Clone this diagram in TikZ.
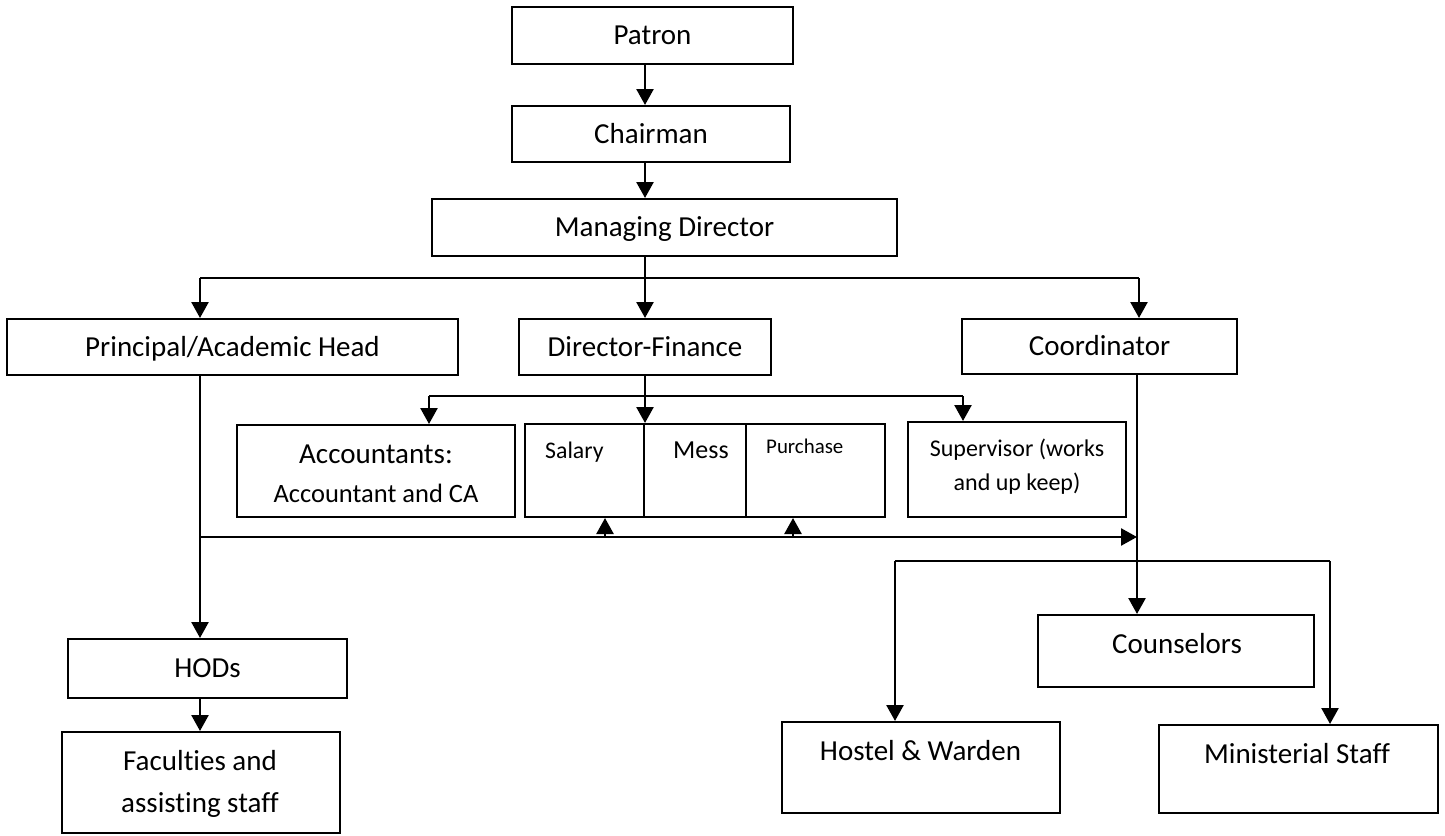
\documentclass[tikz,border=0pt]{standalone}
\usepackage{fontspec}
\setmainfont{Carlito}[Ligatures=NoCommon]
\usetikzlibrary{arrows.meta,calc}
\newcommand{\tfMain}{\fontsize{29}{35}\selectfont}
\begin{document}
\begin{tikzpicture}[x=1pt,y=-1pt,
  box/.style={draw, line width=2pt, rectangle, inner sep=0pt,
    font=\tfMain, text height=18.7pt, text depth=0pt, align=center},
  lbl/.style={anchor=base, inner sep=0pt},
  conn/.style={line width=1.9pt},
  arr/.style={line width=2.5pt, -{Triangle[width=17pt,length=16pt]}},
]
\useasboundingbox (0,0) rectangle (1445,835);
\fill[white] (0,0) rectangle (1445,835);

% boxes
\node[box, minimum width=281, minimum height=57] (patron) at (652.5,35.5) {Patron};
\node[box, minimum width=278, minimum height=56] (chair) at (651,134) {Chairman};
\node[box, minimum width=465, minimum height=57] (md) at (664.5,227.5) {Managing Director};
\node[box, minimum width=451, minimum height=56] (princ) at (232.5,347) {Principal/Academic Head};
\node[box, minimum width=252, minimum height=56] (dirf) at (645,347) {Director-Finance};
\node[box, minimum width=275, minimum height=55] (coord) at (1099.5,346.5) {Coordinator};

\node[box, minimum width=278, minimum height=92] (acct) at (376,471) {};
\node[lbl, font=\tfMain] (acctA) at (376,463) {Accountants:};
\node[lbl, font=\fontsize{26.5}{32}\selectfont] (acctB) at (376,502) {Accountant and CA};

\node[box, minimum width=119, minimum height=93] (salary) at (584.5,470.5) {};
\node[box, minimum width=102, minimum height=93] (mess) at (695,470.5) {};
\node[box, minimum width=139, minimum height=93] (purch) at (815.5,470.5) {};
\node[lbl, anchor=base west, font=\fontsize{23.8}{28}\selectfont] (salaryT) at (545,458) {Salary};
\node[lbl, anchor=base west, font=\fontsize{26}{31}\selectfont] (messT) at (673,458) {Mess};
\node[lbl, anchor=base west, font=\fontsize{20.9}{25}\selectfont] (purchT) at (766,453) {Purchase};

\node[box, minimum width=218, minimum height=95] (sup) at (1017,469.5) {};
\node[lbl, font=\fontsize{24}{29}\selectfont] (supA) at (1017,456) {Supervisor (works};
\node[lbl, font=\fontsize{24}{29}\selectfont] (supB) at (1017,490) {and up keep)};

\node[box, minimum width=279, minimum height=59] (hods) at (207.5,668.5) {HODs};
\node[box, minimum width=278, minimum height=101] (fac) at (201,782.5) {};
\node[lbl, font=\tfMain] (facA) at (200,770) {Faculties and};
\node[lbl, font=\tfMain] (facB) at (200,812) {assisting staff};

\node[box, minimum width=276, minimum height=72] (couns) at (1176,651) {};
\node[lbl, font=\tfMain] (counsT) at (1177,653) {Counselors};
\node[box, minimum width=278, minimum height=91] (hostel) at (921,767.5) {};
\node[lbl, font=\tfMain] (hostelT) at (920.5,760) {Hostel \& Warden};
\node[box, minimum width=279, minimum height=88] (minis) at (1298.5,769) {};
\node[lbl, font=\tfMain] (minisT) at (1297,763) {Ministerial Staff};

% reference coordinates
\coordinate (xa) at (645,0);
\coordinate (xp) at (200,0);
\coordinate (xc) at (1139,0);
\coordinate (xk) at (1137,0);
\coordinate (ya) at (0,278);
\coordinate (yf) at (0,396);
\coordinate (yl) at (0,537);
\coordinate (yb) at (0,561);
\coordinate (xacc) at (429,0);
\coordinate (xsup) at (963,0);
\coordinate (xu1) at (605,0);
\coordinate (xu2) at (793,0);
\coordinate (xh) at (895,0);
\coordinate (xm) at (1330,0);

% top chain
\draw[arr] (patron.south -| xa) -- (chair.north -| xa);
\draw[arr] (chair.south -| xa) -- (md.north -| xa);
\draw[arr] (md.south -| xa) -- (dirf.north -| xa);
\draw[conn] (xp |- ya) -- (xc |- ya);
\draw[arr] (xp |- ya) -- (princ.north -| xp);
\draw[arr] (xc |- ya) -- (coord.north -| xc);

% finance branch
\draw[arr] (dirf.south -| xa) -- (mess.north -| xa);
\draw[conn] (xacc |- yf) -- (xsup |- yf);
\draw[arr] (xacc |- yf) -- (acct.north -| xacc);
\draw[arr] (xsup |- yf) -- (sup.north -| xsup);

% principal branch
\draw[arr] (princ.south -| xp) -- (hods.north -| xp);
\draw[arr] (hods.south -| xp) -- (fac.north -| xp);
\draw[arr] (xp |- yl) -- (xk |- yl);
\draw[arr] (xu1 |- yl) -- (salary.south -| xu1);
\draw[arr] (xu2 |- yl) -- (purch.south -| xu2);

% coordinator branch
\draw[arr] (coord.south -| xk) -- (couns.north -| xk);
\draw[conn] (xh |- yb) -- (xm |- yb);
\draw[arr] (xh |- yb) -- (hostel.north -| xh);
\draw[arr] (xm |- yb) -- (minis.north -| xm);
\end{tikzpicture}
\end{document}
